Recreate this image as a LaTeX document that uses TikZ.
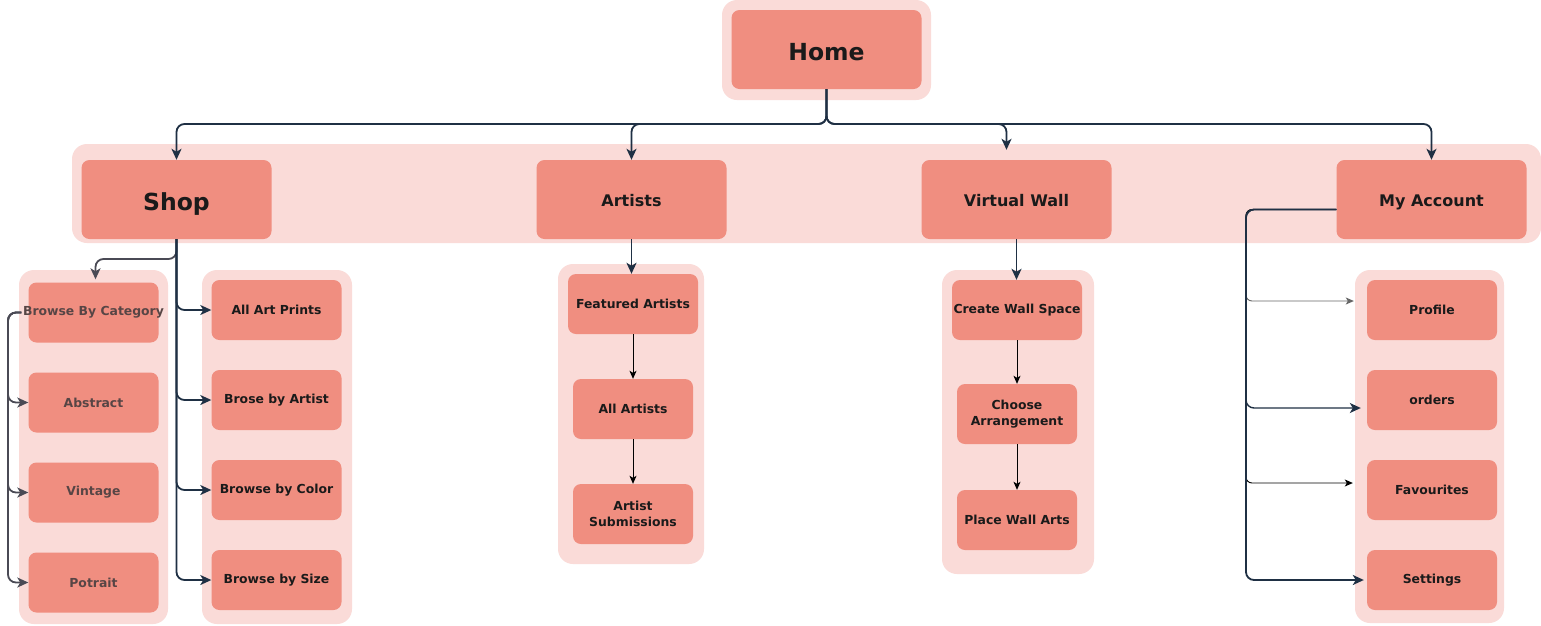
\documentclass[tikz,border=0pt]{standalone}
\usepackage{fontspec}
\setmainfont{DejaVu Sans}
\usetikzlibrary{arrows.meta}
\definecolor{boxc}{HTML}{F08E80}
\definecolor{grpc}{HTML}{FADBD8}
\definecolor{navy}{HTML}{1F3044}
\definecolor{txt}{HTML}{1A1A1A}
\definecolor{txtg}{HTML}{574545}
\definecolor{grayc}{HTML}{4A4A55}
\definecolor{thingray}{HTML}{666666}
\begin{document}
\begin{tikzpicture}[x=1pt,y=-1pt,
 box/.style={rectangle, rounded corners=8pt, fill=boxc, inner sep=0pt, text=txt, font=\bfseries\fontsize{12.4}{16}\selectfont, align=center},
 big/.style={box, minimum width=190pt, minimum height=79pt, font=\bfseries\fontsize{16}{19}\selectfont, text height=16pt, text depth=1.4pt},
 huge/.style={big, font=\bfseries\fontsize{23.5}{28}\selectfont, text height=24pt, text depth=2pt},
 small/.style={box, minimum width=130pt, minimum height=60pt},
 smaller/.style={box, minimum width=120pt, minimum height=60pt},
 graytext/.style={text=txtg},
 grp/.style={fill=grpc, rounded corners=15pt},
 conn/.style={draw=navy, line width=1.8pt, rounded corners=8pt, -{Stealth[length=11pt,width=10pt,inset=3pt]}},
 gconn/.style={conn, draw=grayc},
 thinarrow/.style={draw=black, line width=0.9pt, rounded corners=6pt, -{Stealth[length=8pt,width=7pt,inset=2pt]}},
]
\fill[white] (0,0) rectangle (1541,625);
\useasboundingbox (0,0) rectangle (1541,625);

% group backgrounds
\fill[grp] (722,0) rectangle (931,100);
\fill[grp] (72,144) rectangle (1541,243);
\fill[grp] (19,270) rectangle (168,624);
\fill[grp] (202,270) rectangle (352,624);
\fill[grp] (558,264) rectangle (704,564);
\fill[grp] (942,270) rectangle (1094,574);
\fill[grp] (1355,270) rectangle (1504,623);

% nodes
\node[huge] (home) at (826.5,49.5) {Home};
\node[huge] (shop) at (176.5,199.5) {Shop};
\node[big] (artists) at (631.5,199.5) {Artists};
\node[big] (vw) at (1016.5,199.5) {Virtual Wall};
\node[big] (ma) at (1431.5,199.5) {My Account};

\node[small,graytext] (bbc) at (93.5,312.5) {\makebox[0pt]{Browse By Category}};
\node[small,graytext] (abs) at (93.5,402.5) {Abstract};
\node[small,graytext] (vin) at (93.5,492.5) {Vintage};
\node[small,graytext] (pot) at (93.5,582.5) {Potrait};

\node[small] (aap) at (276.5,310) {All Art Prints};
\node[small] (bba) at (276.5,400) {Brose by Artist};
\node[small] (bbcol) at (276.5,490) {Browse by Color};
\node[small] (bbs) at (276.5,580) {Browse by Size};

\node[small] (fa) at (633,304) {Featured Artists};
\node[smaller] (aa) at (633,409) {All Artists};
\node[smaller] (as) at (633,514) {Artist\\Submissions};

\node[small] (cws) at (1017,310) {Create Wall Space};
\node[smaller] (ca) at (1017,414) {Choose\\Arrangement};
\node[smaller] (pwa) at (1017,520) {Place Wall Arts};

\node[small] (prof) at (1432,310) {Profile};
\node[small] (ord) at (1432,400) {orders};
\node[small] (fav) at (1432,490) {Favourites};
\node[small] (set) at (1432,580) {Settings};

% Home connectors
\coordinate (bus) at (0,124);
\coordinate (vwt) at ([xshift=-10pt,yshift=10pt]vw.north);
\draw[conn] (home.south) |- (shop.north |- bus) -- (shop.north);
\draw[conn] (home.south) |- (artists.north |- bus) -- (artists.north);
\draw[conn] (home.south) |- (vwt |- bus) -- (vwt);
\draw[conn] (home.south) |- (ma.north |- bus) -- (ma.north);

% Shop connectors
\coordinate (sb) at (0,259);
\coordinate (bbt) at ([xshift=2pt,yshift=3pt]bbc.north);
\draw[gconn] (shop.south) |- (bbt |- sb) -- (bbt);
\foreach \t in {aap,bba,bbcol,bbs}
  \draw[conn] (shop.south) |- (\t.west);

% Browse by category connectors
\coordinate (bs) at ([xshift=-7pt]bbc.west);
\coordinate (lb) at (8,0);
\foreach \t in {abs,vin,pot}
  \draw[gconn] (bs) -- (bs -| lb) |- (\t.west);

% Artists
\draw[conn] (artists.south) -- (artists.south |- fa.north);
\draw[thinarrow] (fa.south) -- (aa.north);
\draw[thinarrow] (aa.south) -- (as.north);

% Virtual wall
\draw[conn] (vw.south) -- (vw.south |- cws.north);
\draw[thinarrow] (cws.south) -- (ca.north);
\draw[thinarrow] (ca.south) -- (pwa.north);

% My account
\coordinate (ms) at ([yshift=-10pt]ma.west);
\coordinate (mb) at (1246,0);
\coordinate (pt) at ([xshift=-13pt,yshift=9pt]prof.west);
\coordinate (ot) at ([xshift=-6pt,yshift=-8pt]ord.west);
\coordinate (ft) at ([xshift=-14pt,yshift=7pt]fav.west);
\coordinate (st) at ([xshift=-3pt]set.west);
\draw[thinarrow, draw=thingray] (ms) -- (ms -| mb) |- (pt);
\draw[thinarrow] (ms) -- (ms -| mb) |- (ft);
\draw[conn, line width=1.4pt] (ms) -- (ms -| mb) |- (ot);
\draw[conn] (ms) -- (ms -| mb) |- (st);
\end{tikzpicture}
\end{document}
